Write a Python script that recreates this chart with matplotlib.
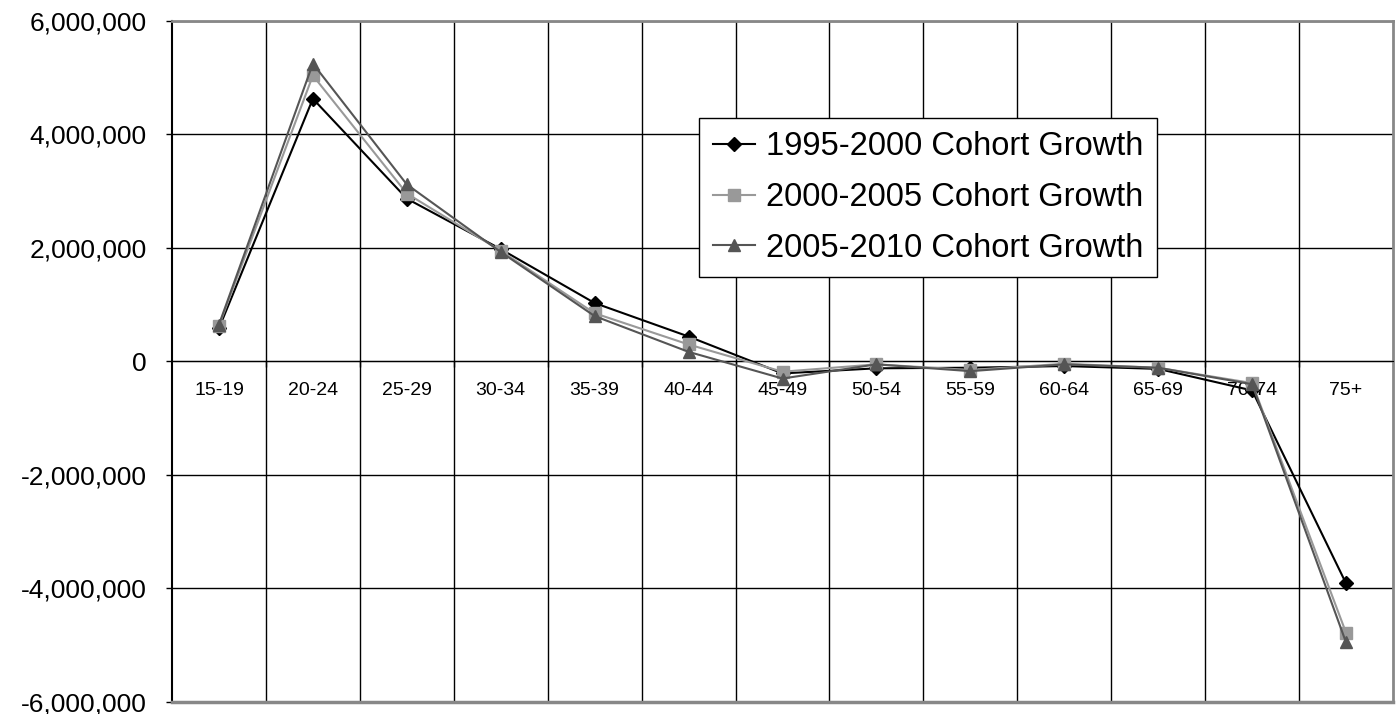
import matplotlib.pyplot as plt
from matplotlib.ticker import FuncFormatter, FixedLocator

plt.rcParams['font.family'] = ['Liberation Sans', 'DejaVu Sans']

age_groups = ['15-19', '20-24', '25-29', '30-34', '35-39', '40-44', '45-49',
              '50-54', '55-59', '60-64', '65-69', '70-74', '75+']
growth_1995_2000 = [585000, 4630000, 2870000, 1980000, 1030000, 440000, -210000,
                    -120000, -110000, -80000, -130000, -510000, -3910000]
growth_2000_2005 = [630000, 5040000, 2960000, 1950000, 850000, 300000, -180000,
                    -50000, -150000, -40000, -110000, -380000, -4780000]
growth_2005_2010 = [650000, 5250000, 3120000, 1930000, 800000, 170000, -300000,
                    -50000, -170000, -50000, -110000, -400000, -4950000]
series_names = ['1995-2000 Cohort Growth', '2000-2005 Cohort Growth',
                '2005-2010 Cohort Growth']

fig = plt.figure(figsize=(14, 7.14), dpi=100)
ax = fig.add_axes([172 / 1400, 1 - 702 / 714, 1221 / 1400, 681 / 714])

x = list(range(len(age_groups)))
ax.plot(x, growth_1995_2000, color='black', lw=1.5, marker='D', ms=7.5,
        label=series_names[0], zorder=3)
ax.plot(x, growth_2000_2005, color='#999999', lw=1.5, marker='s', ms=8,
        label=series_names[1], zorder=4)
ax.plot(x, growth_2005_2010, color='#555555', lw=1.5, marker='^', ms=9,
        label=series_names[2], zorder=5)

ax.set_xlim(-0.5, len(age_groups) - 0.5)
ax.set_ylim(-6000000, 6000000)

ax.set_yticks(range(-6000000, 6000001, 2000000))
ax.yaxis.set_major_formatter(FuncFormatter(lambda v, p: f'{int(v):,}'))
ax.tick_params(axis='y', length=4.5, width=1, pad=13.5, labelsize=19, color='black')

# category labels at centres, ticks and grid at boundaries
ax.set_xticks(x)
ax.set_xticklabels(age_groups)
ax.xaxis.set_minor_locator(FixedLocator([i + 0.5 for i in range(len(age_groups) - 1)]))
ax.tick_params(axis='x', which='major', length=0, pad=15, labelsize=14)
ax.tick_params(axis='x', which='minor', length=4.5, width=1, color='black')

ax.grid(axis='y', which='major', color='black', lw=1)
ax.grid(axis='x', which='minor', color='black', lw=1)
ax.grid(axis='x', which='major', visible=False)
ax.set_axisbelow(True)

ax.spines['bottom'].set_position(('data', 0))
ax.spines['bottom'].set_color('black')
ax.spines['left'].set_color('black')
ax.spines['left'].set_linewidth(1.5)
for s in ['top', 'right']:
    ax.spines[s].set_color('#888888')
    ax.spines[s].set_linewidth(2)
ax.axhline(-6000000, color='#888888', lw=2.5, clip_on=False, zorder=6)

leg = ax.legend(loc='upper left', bbox_to_anchor=(0.432, 0.857), fontsize=23.5,
                frameon=True, fancybox=False, edgecolor='black', framealpha=1,
                handlelength=1.3, handletextpad=0.35, borderpad=0.4,
                labelspacing=0.6, borderaxespad=0)
leg.get_frame().set_linewidth(1)

fig.savefig('out.png', dpi=100)
